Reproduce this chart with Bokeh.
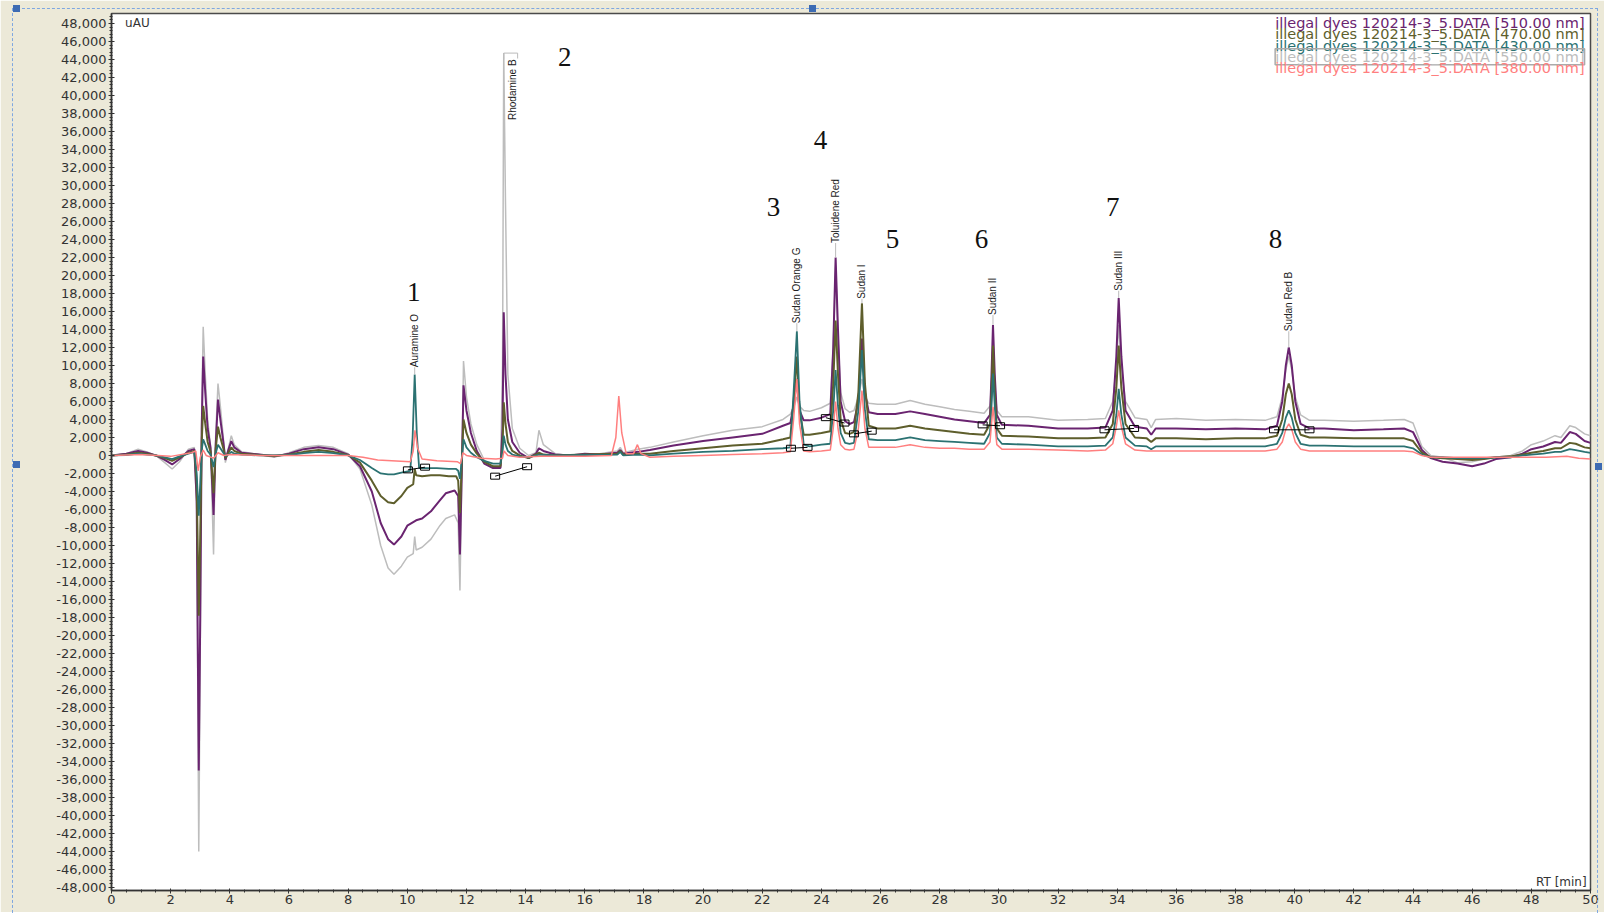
import numpy as np
from bokeh.plotting import figure
from bokeh.models import Range1d, SingleIntervalTicker, NumeralTickFormatter, Label, InlineStyleSheet
from bokeh.embed import file_html
from bokeh.resources import INLINE
from bokeh.core.properties import value

# ---------------- data (RT [min], signal [uAU]) ----------------
trace_550 = [
    (0.0, 0), (0.5, 200), (0.9, 700), (1.2, 400), (1.5, 0), (1.8, -800), (2.05, -1500), (2.3, -700),
    (2.6, 700), (2.8, 900), (2.88, -6000), (2.95, -44000), (3.0, -22000), (3.05, 5000), (3.1, 14300),
    (3.17, 9000), (3.25, 4000), (3.35, 1000), (3.45, -11000), (3.52, 2000), (3.6, 8000), (3.68, 5500),
    (3.78, 2000), (3.85, -800), (3.95, 800), (4.05, 2200), (4.15, 1200), (4.4, 400), (5.0, 100),
    (5.5, -200), (6.0, 300), (6.5, 900), (7.0, 1100), (7.5, 900), (8.0, 200), (8.4, -1500), (8.8, -5500),
    (9.1, -10000), (9.35, -12500), (9.55, -13200), (9.8, -12300), (10.0, -11300), (10.2, -10900),
    (10.25, -9000), (10.3, -10500), (10.5, -10200), (10.8, -9300), (11.1, -7800), (11.3, -7000),
    (11.6, -6600), (11.72, -7500), (11.78, -15000), (11.84, -3000), (11.9, 10500), (12.0, 6500),
    (12.15, 3500), (12.35, 1200), (12.6, -500), (12.9, -1300), (13.15, -1300), (13.22, 10000),
    (13.26, 44700), (13.32, 28000), (13.4, 9000), (13.55, 3000), (13.8, 800), (14.1, 0), (14.35, 300),
    (14.45, 2800), (14.6, 1200), (15.0, 200), (15.5, 0), (16.0, 100), (16.5, 200), (17.1, 500),
    (17.2, 900), (17.3, 300), (17.8, 700), (18.2, 900), (19.0, 1500), (20.0, 2200), (21.0, 2800),
    (22.0, 3200), (22.7, 4000), (22.95, 4600), (23.08, 5500), (23.17, 6500), (23.26, 5500), (23.4, 5000),
    (23.6, 4900), (24.0, 5300), (24.3, 5800), (24.4, 12000), (24.48, 21000), (24.56, 13000), (24.65, 7000),
    (24.8, 5200), (24.95, 4800), (25.1, 5000), (25.25, 6500), (25.37, 8500), (25.47, 6500), (25.6, 5800),
    (25.9, 5700), (26.5, 5700), (27.0, 6100), (27.5, 5700), (28.0, 5400), (28.5, 5100), (29.0, 4900),
    (29.5, 4700), (29.7, 5500), (29.75, 8000), (29.8, 11000), (29.86, 8000), (29.93, 5000), (30.1, 4300),
    (31.0, 4300), (32.0, 3900), (33.0, 4000), (33.6, 4100), (33.85, 6000), (33.97, 10000), (34.05, 14500),
    (34.14, 10000), (34.28, 6000), (34.6, 4200), (35.0, 4000), (35.15, 3100), (35.3, 4000), (36.0, 4100),
    (37.0, 3900), (38.0, 4000), (39.0, 3900), (39.4, 4300), (39.58, 6500), (39.7, 9500), (39.8, 11000),
    (39.9, 9500), (40.02, 6500), (40.2, 4500), (40.5, 3900), (41.0, 3900), (42.0, 3800), (43.0, 3900),
    (43.7, 4000), (44.0, 3600), (44.3, 1000), (44.6, 0), (45.0, -200), (45.5, -800), (46.0, -700),
    (46.4, -400), (46.8, -200), (47.3, 0), (47.7, 500), (48.0, 1200), (48.4, 1600), (48.8, 2200),
    (49.0, 2000), (49.3, 3300), (49.5, 3100), (49.8, 2400), (50.0, 2200),
]

trace_510 = [
    (0.0, 0), (0.5, 200), (0.9, 500), (1.2, 300), (1.5, 0), (1.8, -500), (2.05, -1000), (2.3, -400),
    (2.6, 500), (2.8, 700), (2.88, -5000), (2.95, -35000), (3.0, -18000), (3.05, 3000), (3.1, 11000),
    (3.17, 7000), (3.25, 3000), (3.35, 800), (3.45, -6600), (3.52, 1000), (3.6, 6200), (3.68, 4000),
    (3.78, 1500), (3.85, -500), (3.95, 600), (4.05, 1600), (4.15, 900), (4.4, 300), (5.0, 100),
    (5.5, -100), (6.0, 200), (6.5, 700), (7.0, 900), (7.5, 700), (8.0, 100), (8.4, -1200), (8.8, -4000),
    (9.1, -7500), (9.35, -9300), (9.55, -9900), (9.8, -9000), (10.0, -7800), (10.3, -7200), (10.5, -7000),
    (10.8, -6200), (11.1, -5000), (11.3, -4200), (11.6, -3900), (11.72, -4500), (11.78, -11000),
    (11.84, -2000), (11.9, 7800), (12.0, 5000), (12.15, 2500), (12.35, 500), (12.6, -900), (12.9, -1400),
    (13.15, -1400), (13.22, 3000), (13.26, 15900), (13.32, 9000), (13.4, 4000), (13.55, 1500), (13.8, 300),
    (14.1, -300), (14.35, 200), (14.45, 800), (14.6, 500), (15.0, 100), (15.5, 0), (16.0, 200), (16.5, 100),
    (17.1, 300), (17.2, 600), (17.3, 200), (17.8, 400), (18.2, 600), (19.0, 1100), (20.0, 1600),
    (21.0, 2000), (22.0, 2400), (22.7, 3300), (22.95, 3600), (23.08, 6000), (23.17, 8500), (23.26, 5000),
    (23.4, 3900), (23.6, 3900), (24.0, 4200), (24.3, 4600), (24.4, 12000), (24.48, 22000), (24.56, 14000),
    (24.65, 6000), (24.8, 3800), (24.95, 3500), (25.1, 3700), (25.25, 6000), (25.37, 13000), (25.47, 7000),
    (25.6, 4800), (25.9, 4600), (26.5, 4600), (27.0, 4900), (27.5, 4600), (28.0, 4300), (28.5, 4000),
    (29.0, 3800), (29.5, 3600), (29.7, 4500), (29.75, 9000), (29.8, 14500), (29.86, 9000), (29.93, 4500),
    (30.1, 3400), (31.0, 3300), (32.0, 3000), (33.0, 3000), (33.6, 3100), (33.85, 5000), (33.97, 11000),
    (34.05, 17500), (34.14, 11000), (34.28, 5000), (34.6, 3200), (35.0, 3000), (35.15, 2300), (35.3, 3000),
    (36.0, 3000), (37.0, 2900), (38.0, 3000), (39.0, 2900), (39.4, 3300), (39.58, 6000), (39.7, 10000),
    (39.8, 12000), (39.9, 10000), (40.02, 6000), (40.2, 3500), (40.5, 3000), (41.0, 3000), (42.0, 2800),
    (43.0, 2900), (43.7, 3000), (44.0, 2600), (44.3, 600), (44.6, -300), (45.0, -700), (45.5, -900),
    (46.0, -1200), (46.4, -900), (46.8, -400), (47.3, -200), (47.7, 200), (48.0, 700), (48.4, 1000),
    (48.8, 1500), (49.0, 1400), (49.3, 2600), (49.5, 2400), (49.8, 1600), (50.0, 1400),
]

trace_470 = [
    (0.0, 0), (0.5, 100), (0.9, 300), (1.2, 200), (1.5, 0), (1.8, -300), (2.05, -600), (2.3, -200),
    (2.6, 300), (2.8, 500), (2.88, -3000), (2.95, -17800), (3.0, -9000), (3.05, 1500), (3.1, 5500),
    (3.17, 3500), (3.25, 1500), (3.35, 400), (3.45, -4200), (3.52, 600), (3.6, 3200), (3.68, 2000),
    (3.78, 800), (3.85, -300), (3.95, 300), (4.05, 900), (4.15, 500), (4.4, 200), (5.0, 50), (5.5, -50),
    (6.0, 100), (6.5, 400), (7.0, 600), (7.5, 400), (8.0, 50), (8.4, -800), (8.8, -2800), (9.1, -4500),
    (9.35, -5200), (9.55, -5300), (9.8, -4500), (10.0, -3600), (10.2, -3200), (10.25, -1500), (10.3, -2200),
    (10.5, -2300), (10.8, -2200), (11.1, -2200), (11.4, -2300), (11.65, -2300), (11.72, -2800),
    (11.78, -6400), (11.84, -1000), (11.9, 4000), (12.0, 2500), (12.15, 1200), (12.35, 200), (12.6, -700),
    (12.9, -1200), (13.15, -1200), (13.22, 1000), (13.26, 5900), (13.32, 3500), (13.4, 1500), (13.55, 500),
    (13.8, 0), (14.1, -300), (14.45, 300), (14.6, 100), (15.0, 0), (16.0, 100), (17.1, 200), (17.2, 500),
    (17.3, 100), (17.8, 200), (18.2, 200), (19.0, 500), (20.0, 800), (21.0, 1100), (22.0, 1300),
    (22.7, 1800), (22.95, 2000), (23.06, 6000), (23.17, 11000), (23.26, 5000), (23.4, 2300), (23.6, 2300),
    (24.0, 2500), (24.3, 2700), (24.4, 8000), (24.48, 15000), (24.56, 9000), (24.65, 4000), (24.8, 2500),
    (24.95, 2400), (25.1, 2600), (25.25, 7000), (25.37, 16900), (25.47, 8000), (25.6, 3300), (25.9, 3000),
    (26.5, 3000), (27.0, 3300), (27.5, 3000), (28.0, 2800), (28.5, 2600), (29.0, 2400), (29.5, 2300),
    (29.7, 3500), (29.75, 7000), (29.8, 12200), (29.86, 7000), (29.93, 3000), (30.1, 2200), (31.0, 2100),
    (32.0, 1900), (33.0, 1900), (33.6, 2000), (33.85, 3500), (33.97, 7500), (34.05, 12200), (34.14, 7500),
    (34.28, 3500), (34.6, 2000), (35.0, 1900), (35.15, 1500), (35.3, 1900), (36.0, 1900), (37.0, 1800),
    (38.0, 1900), (39.0, 1900), (39.4, 2200), (39.58, 4000), (39.7, 6800), (39.8, 8000), (39.9, 6800),
    (40.02, 4000), (40.2, 2300), (40.5, 2000), (41.0, 2000), (42.0, 1900), (43.0, 1900), (43.7, 1900),
    (44.0, 1600), (44.3, 300), (44.6, -200), (45.0, -300), (45.5, -400), (46.0, -500), (46.4, -400),
    (46.8, -200), (47.3, -100), (47.7, 100), (48.0, 300), (48.4, 500), (48.8, 800), (49.0, 800),
    (49.3, 1400), (49.5, 1300), (49.8, 900), (50.0, 800),
]

trace_430 = [
    (0.0, 0), (0.5, 50), (0.9, 200), (1.2, 100), (1.5, 0), (1.8, -200), (2.05, -400), (2.3, -100),
    (2.6, 200), (2.8, 400), (2.88, -2000), (2.95, -6700), (3.0, -3000), (3.05, 600), (3.1, 1800),
    (3.17, 1200), (3.25, 500), (3.35, 100), (3.45, -1300), (3.52, 200), (3.6, 1200), (3.68, 800),
    (3.78, 300), (3.85, -100), (3.95, 100), (4.05, 400), (4.15, 200), (4.4, 100), (5.0, 0), (6.0, 50),
    (6.5, 250), (7.0, 400), (7.5, 250), (8.0, 0), (8.4, -500), (8.8, -1400), (9.1, -2000), (9.35, -2100),
    (9.55, -2100), (9.8, -1900), (10.1, -1700), (10.18, 2000), (10.25, 9000), (10.32, 2500), (10.4, -1400),
    (10.6, -1400), (11.0, -1400), (11.4, -1500), (11.65, -1500), (11.72, -1700), (11.78, -2600),
    (11.84, -500), (11.9, 1800), (12.0, 900), (12.15, 300), (12.35, -200), (12.6, -600), (12.9, -900),
    (13.15, -900), (13.22, 500), (13.26, 2200), (13.32, 1200), (13.4, 500), (13.55, 100), (13.8, -100),
    (14.1, -200), (14.45, 100), (15.0, 0), (16.0, 50), (17.1, 100), (17.2, 400), (17.3, 0), (17.8, 100),
    (18.2, 0), (19.0, 200), (20.0, 400), (21.0, 500), (22.0, 700), (22.7, 800), (22.95, 900),
    (23.06, 7000), (23.17, 13800), (23.26, 6000), (23.4, 1200), (23.6, 1000), (24.0, 1200), (24.3, 1300),
    (24.4, 5000), (24.48, 9500), (24.56, 5500), (24.65, 2500), (24.8, 1400), (24.95, 1300), (25.1, 1400),
    (25.25, 5000), (25.37, 11700), (25.47, 5000), (25.6, 1800), (25.9, 1700), (26.5, 1700), (27.0, 2000),
    (27.5, 1700), (28.0, 1600), (28.5, 1500), (29.0, 1400), (29.5, 1300), (29.7, 2500), (29.75, 5500),
    (29.8, 9100), (29.86, 5500), (29.93, 2000), (30.1, 1300), (31.0, 1200), (32.0, 1000), (33.0, 1000),
    (33.6, 1100), (33.85, 2000), (33.97, 4500), (34.05, 7400), (34.14, 4500), (34.28, 2000), (34.6, 1100),
    (35.0, 1000), (35.15, 700), (35.3, 1000), (36.0, 1000), (37.0, 1000), (38.0, 1000), (39.0, 1000),
    (39.4, 1300), (39.58, 2500), (39.7, 4200), (39.8, 5000), (39.9, 4200), (40.02, 2500), (40.2, 1300),
    (40.5, 1100), (41.0, 1100), (42.0, 1000), (43.0, 1000), (43.7, 1000), (44.0, 800), (44.3, 100),
    (44.6, -200), (45.0, -200), (45.5, -300), (46.0, -300), (46.4, -300), (46.8, -200), (47.3, -200),
    (47.7, 0), (48.0, 100), (48.4, 200), (48.8, 400), (49.0, 400), (49.3, 700), (49.5, 600), (49.8, 400),
    (50.0, 300),
]

trace_380 = [
    (0.0, 0), (1.0, 100), (2.0, -100), (2.7, 300), (2.85, 500), (2.93, -1700), (3.0, -200), (3.1, 600),
    (3.2, 0), (3.45, -300), (3.6, 300), (3.8, 0), (4.0, 100), (5.0, 0), (8.0, 0), (8.5, -200), (9.0, -500),
    (10.1, -700), (10.2, 500), (10.26, 2800), (10.35, 800), (10.5, -400), (11.0, -600), (11.7, -700),
    (11.8, -900), (11.88, 300), (12.0, 0), (12.5, -300), (13.0, -400), (13.22, -300), (13.27, 500),
    (13.4, 0), (13.8, -200), (14.5, -100), (16.0, -100), (16.9, 0), (17.05, 2000), (17.15, 6600),
    (17.25, 2500), (17.4, 200), (17.65, 200), (17.78, 1200), (17.9, 200), (18.2, -200), (19.0, -100),
    (20.0, 0), (21.0, 100), (22.0, 200), (22.7, 300), (22.95, 400), (23.06, 4000), (23.17, 8500),
    (23.26, 3500), (23.4, 500), (23.6, 400), (24.0, 500), (24.3, 600), (24.4, 3000), (24.48, 6000),
    (24.56, 3000), (24.65, 1200), (24.8, 700), (24.95, 600), (25.1, 700), (25.25, 3000), (25.37, 7200),
    (25.47, 3000), (25.6, 900), (25.9, 900), (26.5, 900), (27.0, 1200), (27.5, 900), (28.0, 800),
    (28.5, 800), (29.0, 700), (29.5, 700), (29.7, 1500), (29.75, 3500), (29.8, 5400), (29.86, 3500),
    (29.93, 1200), (30.1, 700), (31.0, 700), (32.0, 600), (33.0, 500), (33.6, 600), (33.85, 1300),
    (33.97, 3200), (34.05, 5000), (34.14, 3200), (34.28, 1300), (34.6, 600), (35.0, 500), (36.0, 500),
    (37.0, 500), (38.0, 500), (39.0, 500), (39.4, 700), (39.58, 1500), (39.7, 2900), (39.8, 3500),
    (39.9, 2900), (40.02, 1500), (40.2, 700), (40.5, 500), (41.0, 500), (42.0, 500), (43.0, 500),
    (43.7, 500), (44.0, 400), (44.3, 0), (44.6, -200), (45.5, -200), (46.5, -200), (47.5, -200),
    (48.5, -200), (49.2, -100), (49.6, -300), (50.0, -400),
]

legend_texts = [
    "illegal dyes 120214-3_5.DATA [510.00 nm]",
    "illegal dyes 120214-3_5.DATA [470.00 nm]",
    "illegal dyes 120214-3_5.DATA [430.00 nm]",
    "illegal dyes 120214-3_5.DATA [550.00 nm]",
    "illegal dyes 120214-3_5.DATA [380.00 nm]",
]

peak_names = ["Auramine O", "Rhodamine B", "Sudan Orange G", "Toluidene Red",
              "Sudan I", "Sudan II", "Sudan III", "Sudan Red B"]
peak_rt = [10.25, 13.26, 23.17, 24.48, 25.37, 29.8, 34.05, 39.8]
peak_top = [9000, 44700, 13800, 22000, 16900, 14500, 17500, 12000]
label_base = [9800, 44000, 14700, 23600, 17400, 15600, 18300, 13800]

number_text = ["1", "2", "3", "4", "5", "6", "7", "8"]
number_rt = [10.22, 15.32, 22.38, 23.97, 26.4, 29.41, 33.85, 39.35]
number_y = [18200, 44300, 27600, 35100, 24000, 24000, 27600, 24000]

# integration baselines: (start rt, start value) -> (end rt, end value)
integ_start_rt = [10.02, 12.97, 22.97, 24.15, 25.1, 29.45, 33.57, 39.3]
integ_start_v = [-1600, -2300, 800, 4200, 2400, 3400, 2850, 2850]
integ_end_rt = [10.6, 14.05, 23.53, 24.78, 25.7, 30.04, 34.57, 40.5]
integ_end_v = [-1300, -1250, 900, 3600, 2700, 3300, 3000, 2850]

# ---------------- figure ----------------
p = figure(width=1604, height=912, output_backend="svg", toolbar_location=None,
           x_range=Range1d(0, 50), y_range=Range1d(-48330, 49100),
           min_border_left=111, min_border_right=14, min_border_top=13, min_border_bottom=22)
p.background_fill_color = "white"
p.border_fill_color = "#ECE9D8"
p.outline_line_color = "#4a4a4a"
p.outline_line_width = 1.5
p.grid.visible = False

# dashed selection frame with handles around the chart control (page decoration)
p.stylesheets = [InlineStyleSheet(css="""
:host::after { content: ''; position: absolute; left: 12px; top: 8px; width: 1586px; height: 920px;
  border: 1px dashed #7FA7E0; border-bottom: none; pointer-events: none; box-sizing: border-box; }
:host::before { content: ''; position: absolute; left: 13px; top: 5px; width: 7px; height: 7px;
  background: #3D6BB3; z-index: 5; pointer-events: none;
  box-shadow: 796px 0 0 #3D6BB3, 0 456px 0 #3D6BB3, 1582px 458px 0 #3D6BB3; }
""")]

for ax in (p.xaxis[0], p.yaxis[0]):
    ax.axis_line_color = "#333333"
    ax.axis_line_width = 1.5
    ax.major_tick_line_color = "#333333"
    ax.minor_tick_line_color = "#333333"
    ax.major_label_text_font = "DejaVu Sans"
    ax.major_label_text_font_size = "13px"
    ax.major_label_text_color = "#333333"

p.xaxis.ticker = SingleIntervalTicker(interval=2, num_minor_ticks=4)
p.xaxis.major_tick_in = 2
p.xaxis.major_tick_out = 3
p.xaxis.minor_tick_in = 1
p.xaxis.minor_tick_out = 2
p.xaxis.major_label_standoff = 1

p.yaxis.ticker = SingleIntervalTicker(interval=2000, num_minor_ticks=5)
p.yaxis.formatter = NumeralTickFormatter(format="0,0")
p.yaxis.major_tick_in = 3
p.yaxis.major_tick_out = 3
p.yaxis.minor_tick_in = 1
p.yaxis.minor_tick_out = 2
p.yaxis.major_label_standoff = 2

styles = [
    (trace_550, "#BDBDBD", 1.5),
    (trace_510, "#6A2470", 2.0),
    (trace_470, "#5E5E2C", 2.0),
    (trace_430, "#2B7272", 1.8),
    (trace_380, "#FF7F7F", 1.5),
]
for data, color, lw in styles:
    xs = [d[0] for d in data]
    ys = [d[1] for d in data]
    p.line(xs, ys, line_color=color, line_width=lw)

# leader lines from peak apex to label
p.segment(x0=peak_rt, y0=peak_top, x1=peak_rt, y1=label_base, line_color="#BBBBBB", line_width=1)
p.line([peak_rt[1], 13.73, 13.73], [peak_top[1], peak_top[1], 44100], line_color="#BBBBBB", line_width=1)

# integration baselines with boxes
p.segment(x0=integ_start_rt, y0=integ_start_v, x1=integ_end_rt, y1=integ_end_v,
          line_color="black", line_width=1)
p.rect(x=integ_start_rt + integ_end_rt, y=integ_start_v + integ_end_v, width=9, height=6,
       width_units="screen", height_units="screen", fill_alpha=0, line_color="black", line_width=1)

# peak labels (rotated)
lab_x = list(peak_rt)
lab_x[1] = 13.56
lab_align = ["left"] * len(peak_names)
lab_align[1] = "right"
p.text(x=lab_x, y=label_base, text=peak_names, angle=np.pi / 2, text_align=lab_align,
       text_baseline="middle", text_font=value("Liberation Sans"), text_font_size="10px",
       text_color="#222222")

# big peak numbers
p.text(x=number_rt, y=number_y, text=number_text, text_align="center", text_baseline="middle",
       text_font=value("Liberation Serif"), text_font_size="27px", text_color="#111111")

# axis captions inside the frame
p.add_layout(Label(x=0.46, y=48060, text="uAU", text_align="left", text_baseline="middle",
                   text_font="DejaVu Sans", text_font_size="12px", text_color="#333333"))
p.add_layout(Label(x=49.87, y=-47400, text="RT [min]", text_align="right", text_baseline="middle",
                   text_font="DejaVu Sans", text_font_size="12px", text_color="#333333"))

# legend (right aligned text)
leg_colors = ["#6A2470", "#5E5E2C", "#2B7272", "#BDBDBD", "#FF7F7F"]
leg_y = [48060, 46800, 45540, 44290, 43040]
for i, (txt, col, yy) in enumerate(zip(legend_texts, leg_colors, leg_y)):
    kw = {}
    if i == 3:
        kw = dict(border_line_color="#AAAAAA", border_line_width=1.5, padding=0)
    p.add_layout(Label(x=49.8, y=yy, text=txt, text_align="right", text_baseline="middle",
                       text_font="DejaVu Sans", text_font_size="14.5px", text_color=col, **kw))

open("out.html", "w").write(file_html(p, INLINE))
